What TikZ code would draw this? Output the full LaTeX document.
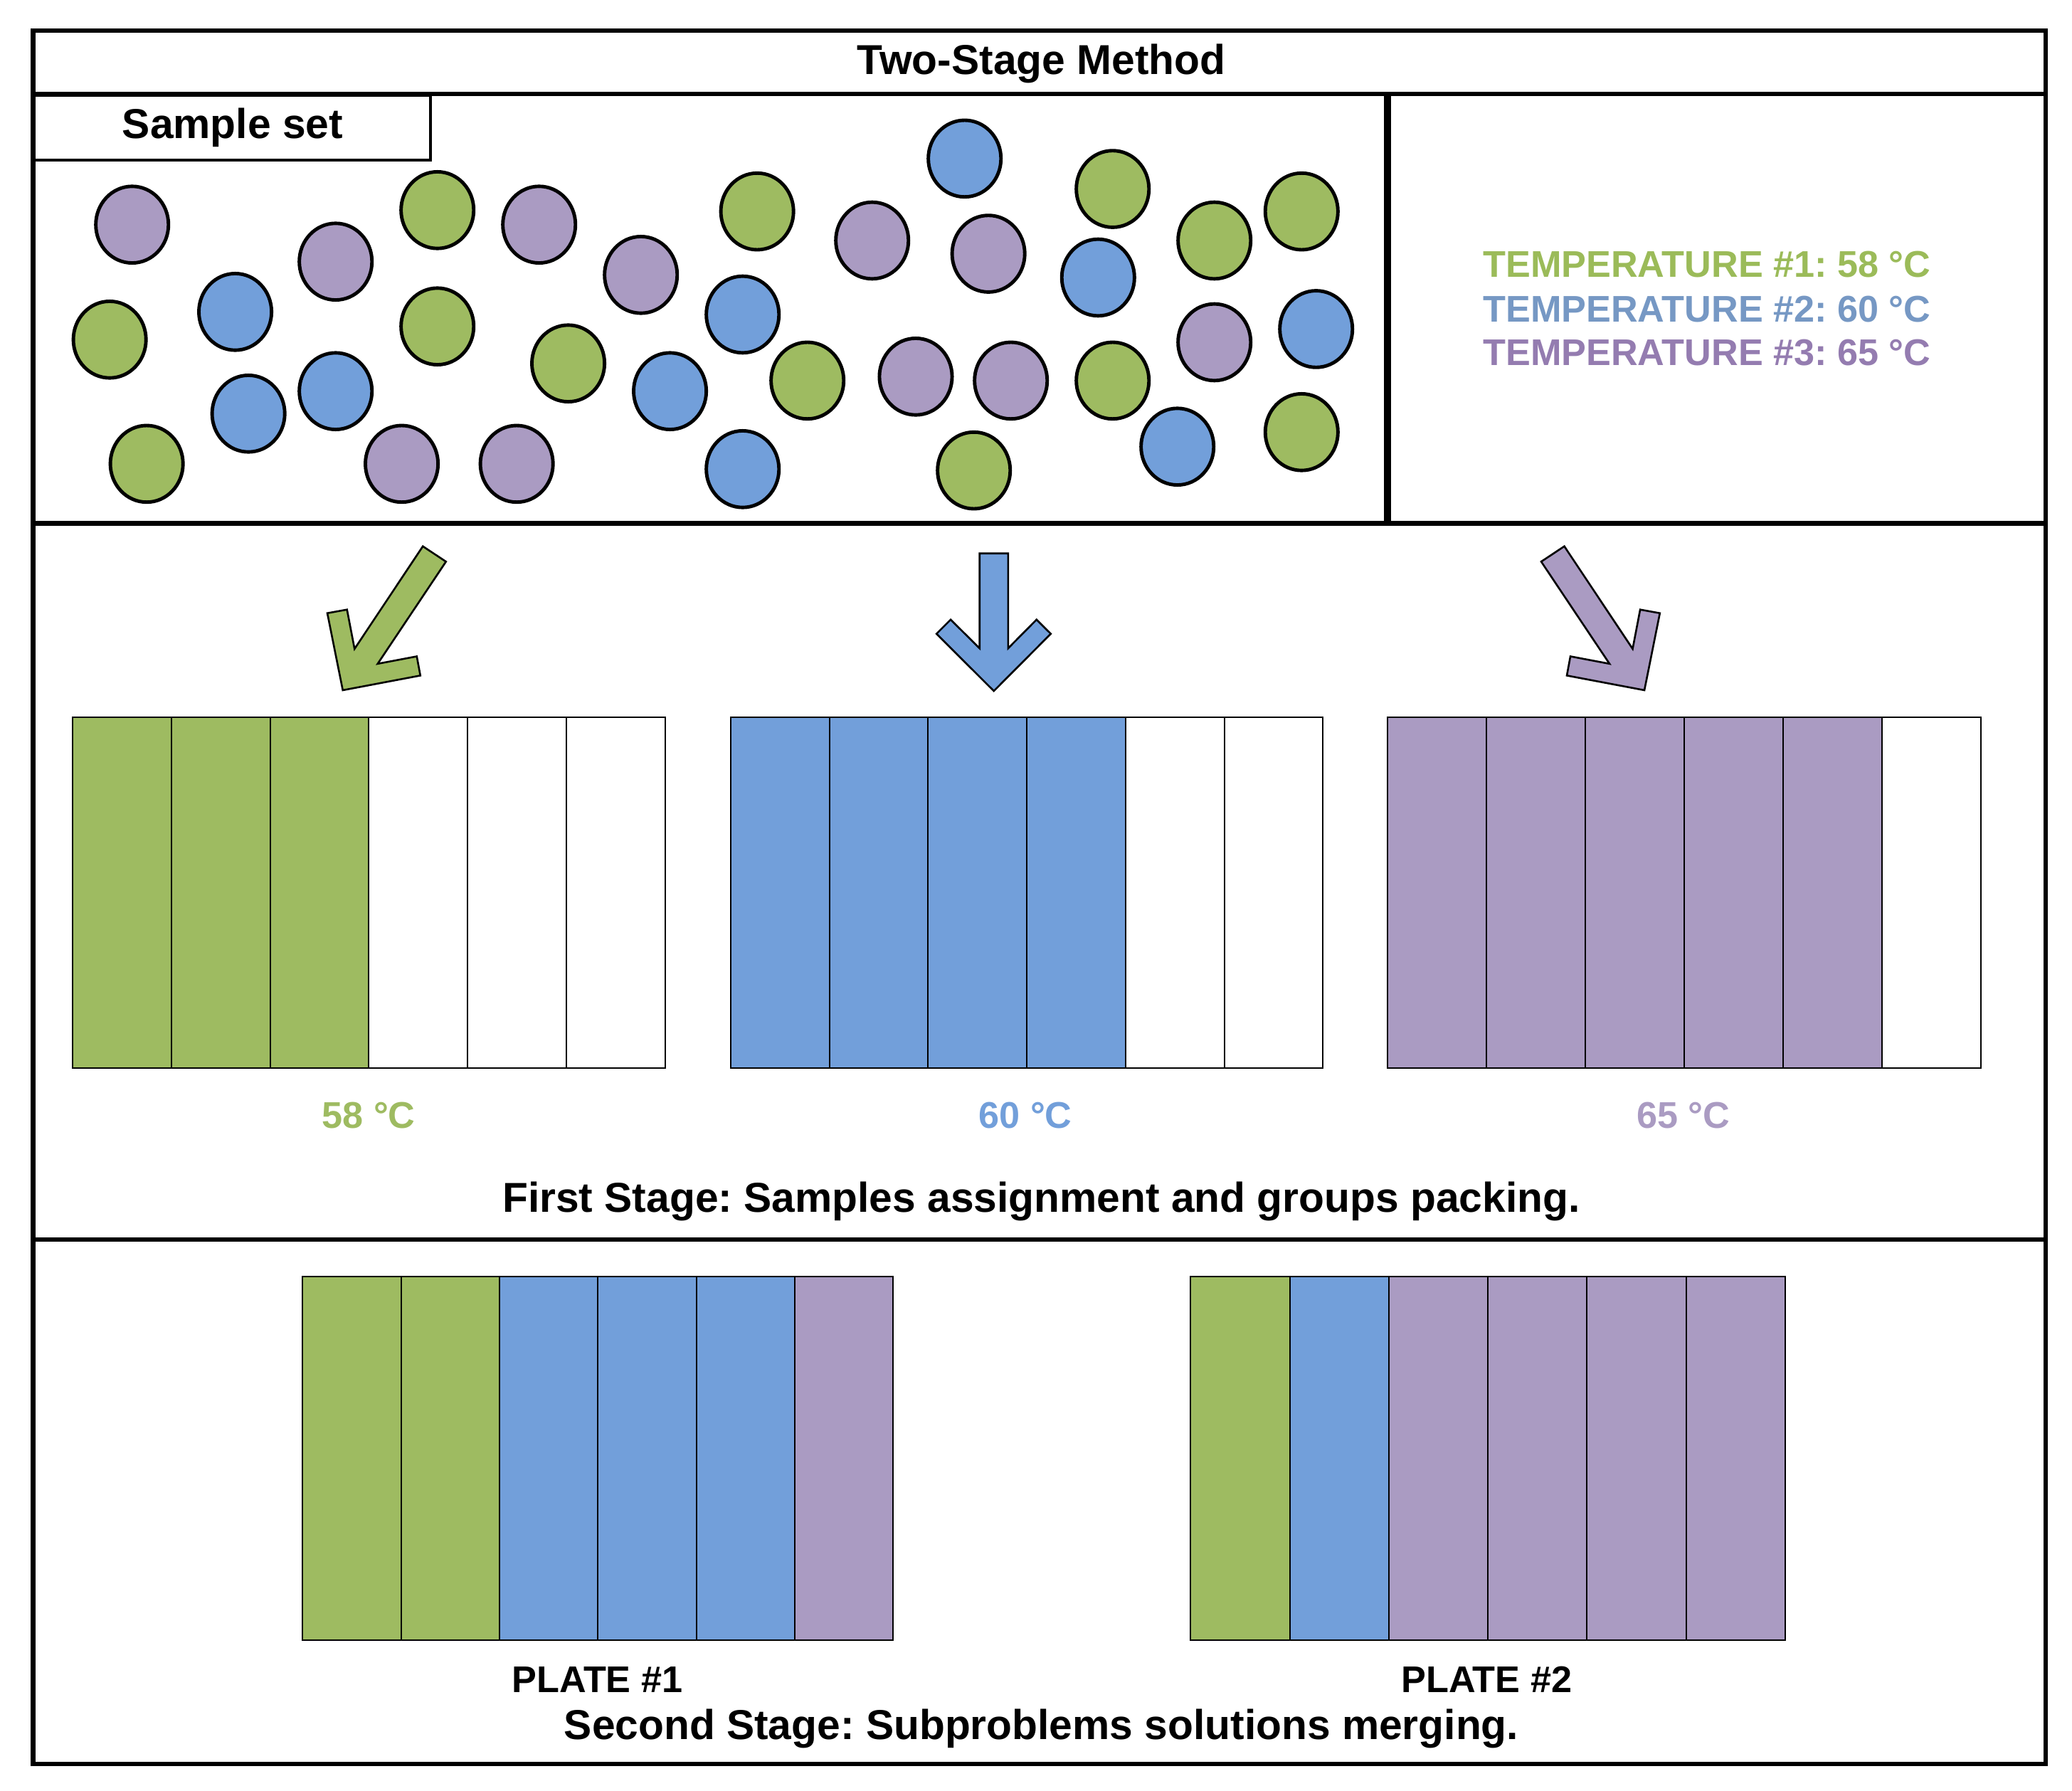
\documentclass[tikz,border=0pt]{standalone}
\usepackage{fontspec}
\setmainfont{Liberation Sans}
\usepackage{xcolor}
\definecolor{grn}{RGB}{158,187,97}
\definecolor{blu}{RGB}{114,159,218}
\definecolor{pur}{RGB}{170,155,194}
\definecolor{grntxt}{RGB}{155,187,89}
\definecolor{blutxt}{RGB}{118,152,196}
\definecolor{purtxt}{RGB}{148,124,176}
\frenchspacing

\begin{document}
\begin{tikzpicture}[x=0.02cm, y=-0.02cm,
  frame/.style={line width=1.9pt},
  sample/.style={line width=1.5pt},
  cell/.style={line width=0.6pt},
  bigarrow/.style={draw, line width=0.8pt, line join=miter},
  every node/.style={font=\bfseries\fontsize{18}{20}\selectfont, inner sep=0pt},
  small/.style={font=\bfseries\fontsize{16}{18}\selectfont}]
\useasboundingbox (0,0) rectangle (1568,1355);
\draw[frame] (25,23) rectangle (1548,1335);
\draw[frame] (25,71) -- (1548,71) (25,396) -- (1548,396) (25,938) -- (1548,938);
\draw[line width=2.8pt] (1050,71) -- (1050,396);
\node (title) at (788,48) {Two-Stage Method};
\node[draw, line width=1.2pt, anchor=north west, minimum width=6cm, minimum height=0.98cm] (set) at (25,71) {Sample set};
\foreach \x/\y/\c in {100/170/pur, 254/198/pur, 331/159/grn, 408/170/pur, 485/208/pur,
  83/257/grn, 178/236/blu, 331/247/grn, 430/275/grn, 507/296/blu, 111/351/grn, 188/313/blu,
  254/296/blu, 304/351/pur, 391/351/pur, 730/120/blu, 573/160/grn, 660/182/pur, 748/192/pur,
  842/143/grn, 831/210/blu, 919/182/grn, 985/160/grn, 562/238/blu, 919/259/pur, 996/249/blu,
  611/288/grn, 693/285/pur, 765/288/pur, 842/288/grn, 891/338/blu, 985/327/grn, 562/355/blu,
  737/356/grn}
  \draw[sample, fill=\c] (\x,\y) ellipse (27.5 and 29);
\node[small, text=grntxt, anchor=west] (temp1) at (1122,200) {TEMPERATURE \#1: 58 °C};
\node[small, text=blutxt, anchor=west] (temp2) at (1122,234) {TEMPERATURE \#2: 60 °C};
\node[small, text=purtxt, anchor=west] (temp3) at (1122,267) {TEMPERATURE \#3: 65 °C};
\filldraw[bigarrow, fill=grn] (320,413.4) -- (268.3,491) -- (262.6,461.3) -- (247.7,464) -- (259.4,522.3)
  -- (318.1,511.2) -- (315.4,496.7) -- (285.8,502.3) -- (337.5,425) -- cycle;
\filldraw[bigarrow, fill=blu] (741.3,418.8) -- (741.3,490.6) -- (719.4,468.9) -- (708.7,479.6) -- (752.1,522.9)
  -- (795.2,479.6) -- (784.4,468.9) -- (762.9,490.6) -- (762.9,418.8) -- cycle;
\filldraw[bigarrow, fill=pur] (1183.8,413.4) -- (1235.5,491) -- (1241.2,461.3) -- (1256.1,464) -- (1244.4,522.3)
  -- (1185.7,511.2) -- (1188.4,496.7) -- (1218,502.3) -- (1166.3,425) -- cycle;
\foreach \c [count=\i from 0] in {grn,grn,grn,white,white,white}
  \draw[cell, fill=\c] ({55+\i*74.7},543) rectangle +(74.7,265);
\foreach \c [count=\i from 0] in {blu,blu,blu,blu,white,white}
  \draw[cell, fill=\c] ({553+\i*74.7},543) rectangle +(74.7,265);
\foreach \c [count=\i from 0] in {pur,pur,pur,pur,pur,white}
  \draw[cell, fill=\c] ({1050+\i*74.8},543) rectangle +(74.8,265);
\node[small, text=grn] (lab58) at (279,844) {58 °C};
\node[small, text=blu] (lab60) at (776,844) {60 °C};
\node[small, text=pur] (lab65) at (1274,844) {65 °C};
\node (first) at (788,909) {First Stage: Samples assignment and groups packing.};
\foreach \c [count=\i from 0] in {grn,grn,blu,blu,blu,pur}
  \draw[cell, fill=\c] ({229+\i*74.5},966) rectangle +(74.5,275);
\foreach \c [count=\i from 0] in {grn,blu,pur,pur,pur,pur}
  \draw[cell, fill=\c] ({901+\i*75},966) rectangle +(75,275);
\node[small] (plate1) at (452,1271) {PLATE \#1};
\node[small] (plate2) at (1125,1271) {PLATE \#2};
\node (second) at (788,1308) {Second Stage: Subproblems solutions merging.};
\end{tikzpicture}
\end{document}
